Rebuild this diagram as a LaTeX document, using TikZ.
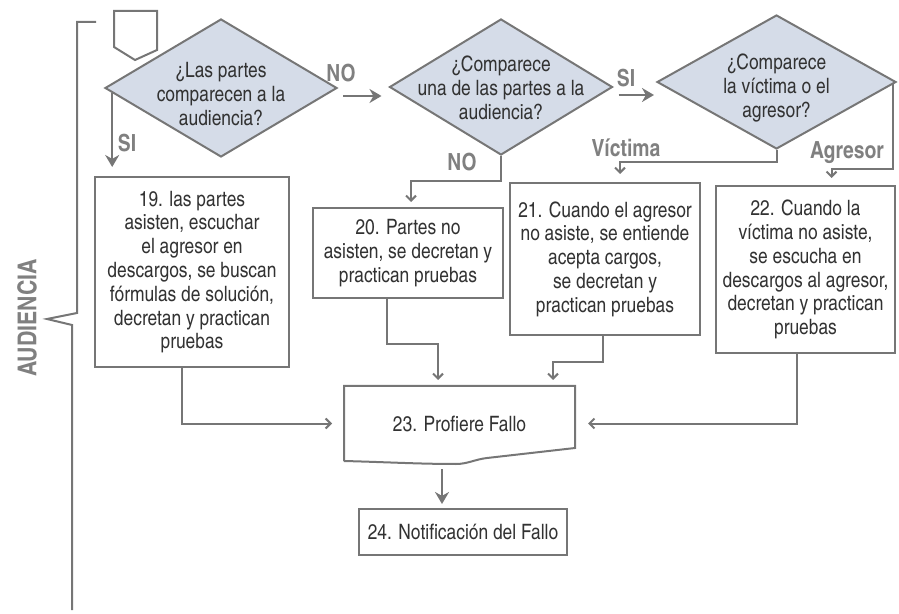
\documentclass[tikz,border=0pt]{standalone}
\usepackage{fontspec}
\setmainfont{texgyreheroscn}[Extension=.otf,UprightFont=*-regular,BoldFont=*-bold,ItalicFont=*-italic,BoldItalicFont=*-bolditalic]
\usetikzlibrary{shapes.geometric,arrows.meta,calc}
\definecolor{lgray}{RGB}{118,118,118}
\definecolor{tgray}{RGB}{50,50,50}
\definecolor{labgray}{RGB}{128,128,128}
\definecolor{dfill}{RGB}{213,220,232}
\tikzset{
  box/.style={draw=lgray,line width=1pt,text=tgray,align=center,inner sep=0pt,font=\fontsize{10.6}{11.9}\selectfont},
  dia/.style={diamond,draw=lgray,fill=dfill,line width=1pt,inner sep=0pt},
  diatext/.style={text=tgray,align=center,inner sep=0pt,font=\fontsize{10.6}{11.9}\selectfont},
  lbl/.style={text=labgray,inner sep=0pt,font=\bfseries\fontsize{11.8}{13}\selectfont},
  bigarr/.style={draw=lgray,line width=1pt,-{Stealth[length=6pt,width=7pt]}},
  smallarr/.style={draw=lgray,line width=1pt,-{Straight Barb[length=2.5pt,width=5pt]}},
}
\begin{document}
\begin{tikzpicture}[x=0.5pt,y=-0.5pt]
            \useasboundingbox (0,0) rectangle (899,614);
            \draw[lgray,line width=1pt] (96,22) -- (77,22) -- (77,313) -- (47,319) -- (72,325) -- (72,610);
            \draw[lgray,line width=1pt] (114,11) -- (157,11) -- (157,50) -- (135,60) -- (114,47) -- cycle;
            \node[lbl,rotate=90,font=\bfseries\fontsize{13}{14}\selectfont] (aud) at (27,318) {AUDIENCIA};

            \node[dia,minimum width=116pt,minimum height=69pt] (d1) at (221,88) {};
            \node[diatext] (d1t) at (221,94) {¿Las partes\\comparecen a la\\audiencia?};
            \node[dia,minimum width=111.5pt,minimum height=68pt] (d2) at (501,87) {};
            \node[diatext] (d2t) at (501,88) {¿Comparece\\una de las partes a la\\audiencia?};
            \node[dia,minimum width=119.5pt,minimum height=67pt] (d3) at (776.5,82) {};
            \node[diatext] (d3t) at (776.5,88) {¿Comparece\\la víctima o el\\agresor?};

            \node[box,minimum width=97pt,minimum height=95pt] (b19) at (192,272) {19. las partes\\asisten, escuchar\\el agresor en\\descargos, se buscan\\fórmulas de solución,\\decretan y practican\\pruebas};
            \node[box,minimum width=95pt,minimum height=45pt] (b20) at (408,253) {20. Partes no\\asisten, se decretan y\\practican pruebas};
            \node[box,minimum width=95pt,minimum height=76pt] (b21) at (605,259) {21. Cuando el agresor\\no asiste, se entiende\\acepta cargos,\\se decretan y\\practican pruebas};
            \node[box,minimum width=89.5pt,minimum height=83.5pt] (b22) at (805.5,269.5) {22. Cuando la\\víctima no asiste,\\se escucha en\\descargos al agresor,\\decretan y practican\\pruebas};
            \node[box,draw=none,minimum width=114.5pt,minimum height=36.5pt] (b23) at (459.5,423.5) {23. Profiere Fallo};
            \draw[lgray,line width=1pt] (b23.south west) -- (b23.north west) -- (b23.north east) -- ([yshift=6.5pt]b23.south east)
                -- ([xshift=-44pt,yshift=1.5pt]b23.south east)
                .. controls ([xshift=-50pt,yshift=0.8pt]b23.south east) and ([xshift=4pt,yshift=-1.5pt]b23.south) .. ([xshift=-1.75pt,yshift=-1.5pt]b23.south)
                .. controls ([xshift=-20pt,yshift=-1.5pt]b23.south) and ([xshift=20pt,yshift=-0.5pt]b23.south west) .. (b23.south west);
            \node[box,minimum width=104pt,minimum height=23pt] (b24) at (463,532) {24. Notificación del Fallo};

            \coordinate (s1) at ($(d1.west)!0.07!(d1.south)$);
            \coordinate (e1) at ([yshift=-4pt]d1.east);
            \coordinate (e2) at ([yshift=-4pt]d2.east);
            \coordinate (s3) at ($(d3.east)!0.03!(d3.south)$);
            \coordinate (s4) at ([xshift=-10.5pt]b24.north);

            \draw[bigarr,shorten >=4.5pt] (s1) -- (s1 |- b19.north);
            \draw[bigarr,shorten <=2.5pt,shorten >=3.5pt] (e1) -- (e1 -| d2.west);
            \draw[bigarr,shorten <=2.5pt,shorten >=1pt] (e2) -- (e2 -| d3.west);
            \draw[smallarr,shorten >=2.5pt] (d2.south) |- ([xshift=1.5pt,yshift=13pt]b20.north) -- ([xshift=1.5pt]b20.north);
            \draw[smallarr,shorten >=4pt] (d3.south) |- ([xshift=7.5pt,yshift=10pt]b21.north) -- ([xshift=7.5pt]b21.north);
            \draw[smallarr,shorten >=3.5pt] (s3) |- ([xshift=13pt,yshift=8pt]b22.north) -- ([xshift=13pt]b22.north);
            \draw[smallarr,shorten >=6pt] ([xshift=-5pt]b19.south) |- (b23.west);
            \draw[smallarr,shorten >=3pt] ([xshift=-10.5pt]b20.south) |- ([xshift=-10.75pt,yshift=21pt]b23.north) -- ([xshift=-10.75pt]b23.north);
            \draw[smallarr,shorten >=3pt] ([xshift=-1pt]b21.south) |- ([xshift=46.75pt,yshift=12pt]b23.north) -- ([xshift=46.75pt]b23.north);
            \draw[smallarr,shorten >=6.5pt] ([xshift=-4.25pt]b22.south) |- (b23.east);
            \draw[bigarr,shorten <=4pt,shorten >=2pt] (s4 |- b23.south) -- (s4);

            \node[lbl] (si1) at (127,143) {SI};
            \node[lbl] (no1) at (341,73) {NO};
            \node[lbl] (si2) at (626,78) {SI};
            \node[lbl] (no2) at (462,162) {NO};
            \node[lbl] (vic) at (626,148) {Víctima};
            \node[lbl] (agr) at (847,153) {Agresor};
        \end{tikzpicture}
\end{document}
